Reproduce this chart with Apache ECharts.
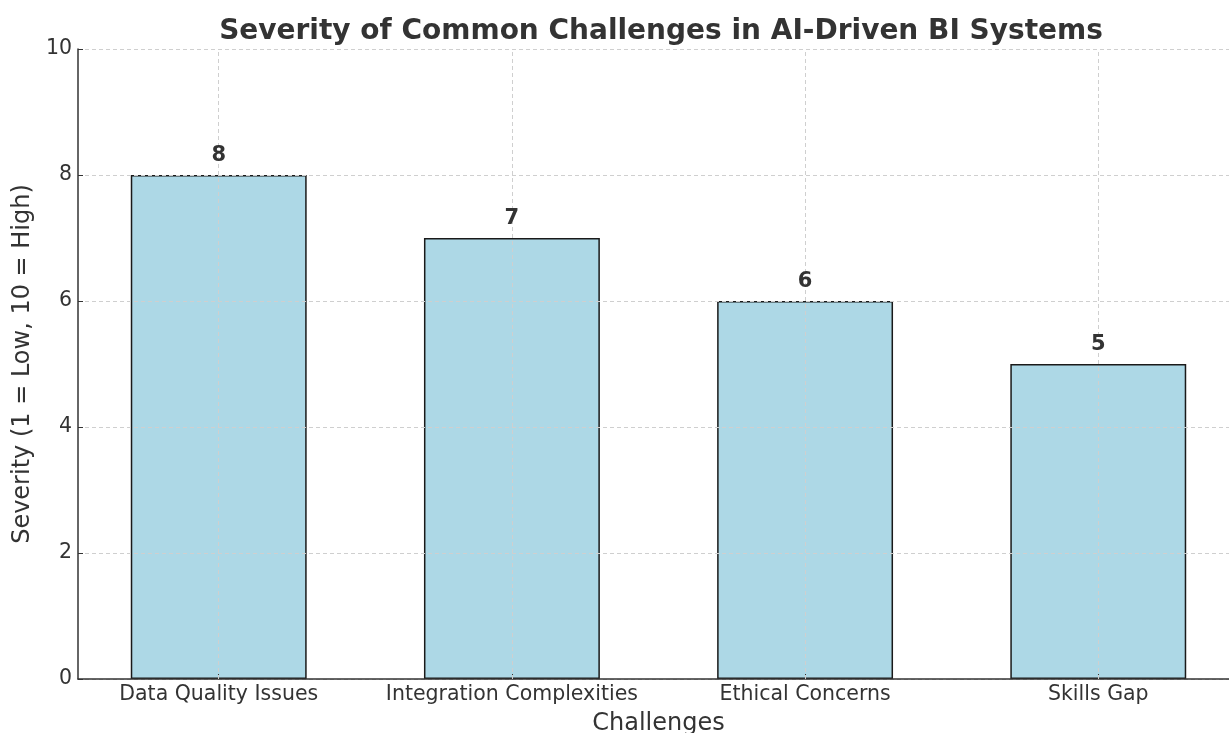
<!DOCTYPE html>
<html>
<head>
<meta charset="utf-8">
<script src="https://cdn.jsdelivr.net/npm/echarts@6/dist/echarts.min.js"></script>
<style>
  html, body { margin: 0; padding: 0; background: #ffffff; }
  #chart { width: 1229px; height: 733px; }
</style>
</head>
<body>
<div id="chart"></div>
<script>
const categories = ['Data Quality Issues', 'Integration Complexities', 'Ethical Concerns', 'Skills Gap'];
const severity = [8, 7, 6, 5];
const yTicks = [0, 2, 4, 6, 8, 10];

const FONT = '"DejaVu Sans", sans-serif';
const TEXT = '#333333';
const GRID = { left: 78, right: -10, top: 49, bottom: 54, outerBoundsMode: 'none', containLabel: false };
const X_MIN = -0.48, X_MAX = 3.48;

const chart = echarts.init(document.getElementById('chart'));
const plotW = 1229 - GRID.left - GRID.right;
const barPx = 0.6 * plotW / (X_MAX - X_MIN);

const gridLine = { color: '#cfcfcf', type: [4, 3], width: 1 };
const points = severity.map((v, i) => [i, v]);

chart.setOption({
  animation: false,
  backgroundColor: '#ffffff',
  title: {
    text: 'Severity of Common Challenges in AI-Driven BI Systems',
    left: 656, top: 13, textAlign: 'center',
    textStyle: { fontFamily: FONT, fontSize: 28, fontWeight: 'bold', color: TEXT }
  },
  grid: GRID,
  xAxis: {
    type: 'value', min: X_MIN, max: X_MAX, z: 5,
    name: 'Challenges', nameLocation: 'middle', nameGap: 33,
    nameTextStyle: { fontFamily: FONT, fontSize: 24, color: TEXT },
    axisLine: { show: true, onZero: false, lineStyle: { color: TEXT, width: 1.5 } },
    axisTick: { show: true, inside: true, length: 5, customValues: categories.map((c, i) => i), lineStyle: { color: TEXT } },
    axisLabel: {
      customValues: categories.map((c, i) => i),
      formatter: v => categories[Math.round(v)] || '',
      fontFamily: FONT, fontSize: 20.5, color: TEXT, margin: 5
    },
    splitLine: { show: false }
  },
  yAxis: {
    type: 'value', min: 0, max: 10, interval: 2, z: 5,
    name: 'Severity (1 = Low, 10 = High)', nameLocation: 'middle', nameGap: 37,
    nameTextStyle: { fontFamily: FONT, fontSize: 24, color: TEXT },
    axisLine: { show: true, onZero: false, lineStyle: { color: TEXT, width: 1.5 } },
    axisTick: { show: true, inside: true, length: 5, lineStyle: { color: TEXT } },
    axisLabel: {
      formatter: v => (yTicks.indexOf(v) >= 0 ? String(v) : ''),
      fontFamily: FONT, fontSize: 20.5, color: TEXT, margin: 6
    },
    splitLine: { show: true, lineStyle: gridLine }
  },
  series: [{
    type: 'bar',
    data: points,
    barWidth: barPx,
    itemStyle: { color: '#add8e6', borderColor: '#1a1a1a', borderWidth: 1.5 },
    markLine: {
      silent: true, symbol: 'none', z: 6,
      label: { show: false },
      lineStyle: gridLine,
      data: categories.map((c, i) => ({ xAxis: i }))
    }
  }, {
    // value labels above each bar, kept above the grid lines
    type: 'scatter',
    data: points,
    symbolSize: 0,
    silent: true,
    z: 10,
    itemStyle: { opacity: 1 },
    label: {
      show: true, position: 'top', distance: 9,
      formatter: p => String(p.value[1]),
      fontFamily: FONT, fontSize: 21, fontWeight: 'bold', color: TEXT
    }
  }]
});
</script>
</body>
</html>
